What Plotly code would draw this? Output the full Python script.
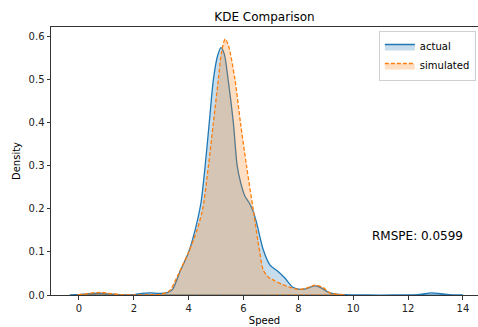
import plotly.graph_objects as go

# Actual KDE
x_actual = [-0.33, 0.0, 0.4, 0.8, 1.2, 1.6, 2.0, 2.3, 2.6, 2.9, 3.2, 3.4, 3.68, 4.0, 4.25, 4.45, 4.6, 4.75,
            4.9, 5.05, 5.18, 5.3, 5.44, 5.63, 5.77, 5.9, 6.05, 6.2, 6.35, 6.48, 6.72, 6.96, 7.27, 7.5,
            7.8, 8.05, 8.3, 8.6, 8.85, 9.1, 9.4, 9.8, 10.5, 11.5, 12.2, 12.5, 12.85, 13.2, 13.6, 14.0]
y_actual = [0.0, 0.001, 0.003, 0.004, 0.002, 0.0005, 0.001, 0.004, 0.005, 0.004, 0.005, 0.012, 0.054, 0.10,
            0.155, 0.215, 0.30, 0.40, 0.50, 0.555, 0.575, 0.56, 0.50, 0.40, 0.30, 0.26, 0.23, 0.215,
            0.195, 0.167, 0.105, 0.07, 0.054, 0.04, 0.018, 0.013, 0.015, 0.021, 0.016, 0.006, 0.002,
            0.0005, 0.0, 0.0, 0.0005, 0.002, 0.005, 0.003, 0.0005, 0.0]

# Simulated KDE
x_sim = [-0.08, 0.2, 0.5, 0.8, 1.1, 1.5, 2.0, 2.5, 3.0, 3.3, 3.6, 4.0, 4.3, 4.51, 4.72, 4.9, 5.08, 5.2,
         5.33, 5.45, 5.69, 5.89, 6.11, 6.35, 6.59, 6.72, 6.9, 7.08, 7.4, 7.69, 8.0, 8.3, 8.6, 8.9,
         9.15, 9.4, 9.7]
y_sim = [0.0, 0.002, 0.005, 0.006, 0.004, 0.001, 0.0, 0.0005, 0.002, 0.01, 0.045, 0.10, 0.15, 0.20,
         0.30, 0.40, 0.50, 0.565, 0.595, 0.58, 0.50, 0.40, 0.30, 0.20, 0.10, 0.058, 0.042, 0.035,
         0.025, 0.018, 0.013, 0.016, 0.023, 0.017, 0.005, 0.002, 0.0]

x_ticks = [0, 2, 4, 6, 8, 10, 12, 14]
y_ticks = [0.0, 0.1, 0.2, 0.3, 0.4, 0.5, 0.6]
rmspe_text = "RMSPE: 0.0599"

fig = go.Figure()
fig.add_trace(go.Scatter(
    x=x_actual + [x_actual[-1], x_actual[0]], y=y_actual + [0, 0],
    mode="lines", name="actual", fill="toself",
    fillcolor="rgba(31,119,180,0.25)",
    line=dict(color="#1f77b4", width=1.3, shape="spline", smoothing=0.8),
))
fig.add_trace(go.Scatter(
    x=x_sim + [x_sim[-1], x_sim[0]], y=y_sim + [0, 0],
    mode="lines", name="simulated", fill="toself",
    fillcolor="rgba(255,127,14,0.25)",
    line=dict(color="#ff7f0e", width=1.3, dash="4px,2px", shape="spline", smoothing=0.8),
))

fig.add_annotation(x=10.62, y=0.137, xref="x", yref="y", text=rmspe_text, showarrow=False,
                   xanchor="left", yanchor="middle",
                   font=dict(family="DejaVu Sans", size=12, color="black"))

axis_common = dict(showgrid=False, zeroline=False, showline=True, linecolor="#333333", linewidth=1,
                   ticks="outside", ticklen=3.5, tickwidth=0.8, tickcolor="#333333",
                   tickfont=dict(family="DejaVu Sans", size=10, color="#222222"), automargin=False)

fig.update_layout(
    width=478, height=327,
    margin=dict(l=51, r=0, t=27, b=32),
    paper_bgcolor="white", plot_bgcolor="white",
    title=dict(text="KDE Comparison", x=0.5, xref="paper", xanchor="center", y=0.948, yanchor="middle",
               font=dict(family="DejaVu Sans", size=12, color="black")),
    xaxis=dict(range=[-1.02, 14.55], tickvals=x_ticks, ticktext=[str(v) for v in x_ticks],
               mirror=True,
               title=dict(text="Speed", standoff=4, font=dict(family="DejaVu Sans", size=10, color="black")),
               **axis_common),
    yaxis=dict(range=[0, 0.623], tickvals=y_ticks, ticktext=[f"{v:.1f}" for v in y_ticks],
               title=dict(text="Density", standoff=6, font=dict(family="DejaVu Sans", size=10, color="black")),
               **axis_common),
    legend=dict(x=0.995, xanchor="right", y=0.985, yanchor="top", bordercolor="#d0d0d0", borderwidth=1,
                bgcolor="rgba(255,255,255,0.8)",
                font=dict(family="DejaVu Sans", size=10, color="black"),
                itemwidth=30, tracegroupgap=0),
    showlegend=True,
)

fig.write_html("out.html", config={"displayModeBar": False},
               post_script="document.body.style.margin='0';document.body.style.overflow='hidden';")
